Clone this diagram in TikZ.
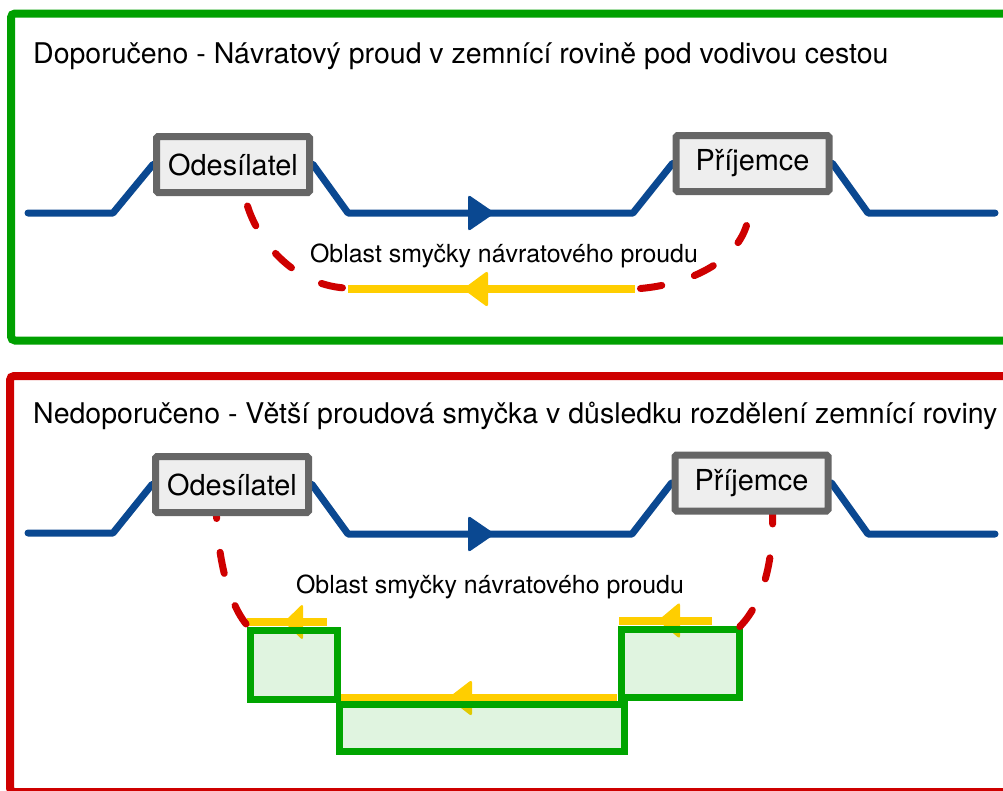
\documentclass[tikz,border=0pt]{standalone}
\usepackage{fontspec}
\setmainfont{TeX Gyre Heros}
\usetikzlibrary{decorations.markings}

\definecolor{wireblue}{RGB}{10,72,145}
\definecolor{dashred}{RGB}{206,0,0}
\definecolor{retyellow}{RGB}{255,206,0}
\definecolor{goodgreen}{RGB}{0,160,0}
\definecolor{badred}{RGB}{206,0,0}
\definecolor{planegreen}{RGB}{0,165,0}
\definecolor{boxgray}{RGB}{102,102,102}
\definecolor{boxfill}{RGB}{238,238,238}

\pgfdeclarelayer{wires}
\pgfdeclarelayer{planes}
\pgfdeclarelayer{dashes}
\pgfsetlayers{wires,planes,dashes,main}

\tikzset{
  frame/.style={line width=8pt, rounded corners=4pt},
  device/.style={draw=boxgray, fill=boxfill, line width=7pt, rounded corners=1.5pt,
    minimum width=153pt, minimum height=56pt, inner sep=0pt,
    font=\fontsize{28.9}{31}\selectfont},
  trace/.style={draw=wireblue, line width=7pt, line cap=round, line join=round},
  retline/.style={draw=retyellow, line width=8pt},
  retdash/.style={draw=dashred, line width=7pt, line cap=round,
    dash pattern=on 21.5pt off 34pt},
  plane/.style={draw=planegreen, fill=planegreen, fill opacity=0.12, line width=7pt,
    inner sep=0pt, outer sep=0pt},
  heading/.style={anchor=base west, inner sep=0pt, font=\fontsize{28.5}{31}\selectfont},
  looplabel/.style={anchor=base, inner sep=0pt, font=\fontsize{24.9}{27}\selectfont},
  flow/.style n args={3}{postaction={decorate, decoration={markings,
    mark=at position 0.5 with {\fill[#1, rounded corners=3pt]
      (#2,-18.5) -- (#3,0) -- (#2,18.5) -- cycle;}}}},
}

\begin{document}
\begin{tikzpicture}[x=1pt, y=-1pt]
\useasboundingbox (0,0) rectangle (1003,790);
\clip (0,0) rectangle (1003,790);

% ---------- panel frames and headings ----------
\draw[frame, draw=goodgreen] (11,13.5) rectangle (1014,340.5);
\draw[frame, draw=badred] (10,376) rectangle (1014,792);

\node[heading] (h1) at (33,63)
  {Doporučeno - Návratový proud v zemnící rovině pod vodivou cestou};
\node[heading] (h2) at (33,423)
  {Nedoporučeno - Větší proudová smyčka v důsledku rozdělení zemnící roviny};

% ---------- devices ----------
\node[device] (tx1) at (233,164.5) {Odesílatel};
\node[device] (rx1) at (752.5,163.5) {Příjemce};
\node[device] (tx2) at (232,484.5) {Odesílatel};
\node[device] (rx2) at (751.5,483) {Příjemce};

% ---------- upper panel: continuous ground plane ----------
\coordinate (wl1) at (28,213);
\coordinate (wa1) at (113,213);
\coordinate (wb1) at (348,213);
\coordinate (wc1) at (633,213);
\coordinate (wd1) at (868,213);
\coordinate (wr1) at (995,213);
\coordinate (ys1) at (635,289);
\coordinate (ye1) at (348,289);
\coordinate (da1) at (247.5,206);
\coordinate (db1) at (344.5,288);
\coordinate (dc1) at (640.5,288.5);
\coordinate (dd1) at (746.5,225.5);

\begin{pgfonlayer}{wires}
  \draw[trace] (wl1) -- (wa1) -- (tx1.west);
  \draw[trace] (tx1.east) -- (wb1) -- (wc1) -- (rx1.west);
  \draw[trace] (rx1.east) -- (wd1) -- (wr1);
  \path[flow={wireblue}{-22.5}{4.5}] (wb1) -- (wc1);
  \draw[retline, flow={retyellow}{3.5}{28.5}] (ys1) -- (ye1);
\end{pgfonlayer}
\begin{pgfonlayer}{dashes}
  \draw[retdash] (da1) .. controls (258,240) and (292,284) .. (db1);
  \draw[retdash] (dc1) .. controls (690,284) and (735,262) .. (dd1);
\end{pgfonlayer}

\node[looplabel] (l1) at (504,262) {Oblast smyčky návratového proudu};

% ---------- lower panel: split ground plane ----------
\coordinate (wl2) at (28,533);
\coordinate (wa2) at (113,533);
\coordinate (wb2) at (348,534);
\coordinate (wc2) at (632,534);
\coordinate (wd2) at (868,534);
\coordinate (wr2) at (995,534);
\coordinate (ya2) at (327,622);
\coordinate (yb2) at (247,622);
\coordinate (yc2) at (617,698);
\coordinate (yd2) at (341,698);
\coordinate (ye2) at (712,620.5);
\coordinate (yf2) at (619,620.5);
\coordinate (da2) at (216,497);
\coordinate (db2) at (246.4,624.4);
\coordinate (dc2) at (772,502.5);
\coordinate (dd2) at (739.8,626.6);

\begin{pgfonlayer}{wires}
  \draw[trace] (wl2) -- (wa2) -- (tx2.west);
  \draw[trace] (tx2.east) -- (wb2) -- (wc2) -- (rx2.west);
  \draw[trace] (rx2.east) -- (wd2) -- (wr2);
  \path[flow={wireblue}{-22}{5}] (wb2) -- (wc2);
  \draw[retline, flow={retyellow}{-16}{3}] (ya2) -- (yb2);
  \draw[retline, flow={retyellow}{7}{31}] (yc2) -- (yd2);
  \draw[retline, flow={retyellow}{-14.5}{7.5}] (ye2) -- (yf2);
\end{pgfonlayer}
\begin{pgfonlayer}{planes}
  \node[plane, minimum width=87pt, minimum height=69pt] (gp1) at (293.5,664.5) {};
  \node[plane, minimum width=285pt, minimum height=47pt] (gp2) at (481.5,727.5) {};
  \node[plane, minimum width=118pt, minimum height=68pt] (gp3) at (680,663) {};
\end{pgfonlayer}
\begin{pgfonlayer}{dashes}
  \draw[retdash] (da2) .. controls (216,545) and (225,598) .. (db2);
  \draw[retdash] (dc2) .. controls (775,545) and (768,598) .. (dd2);
\end{pgfonlayer}

\node[looplabel] (l2) at (490,593) {Oblast smyčky návratového proudu};
\end{tikzpicture}
\end{document}
